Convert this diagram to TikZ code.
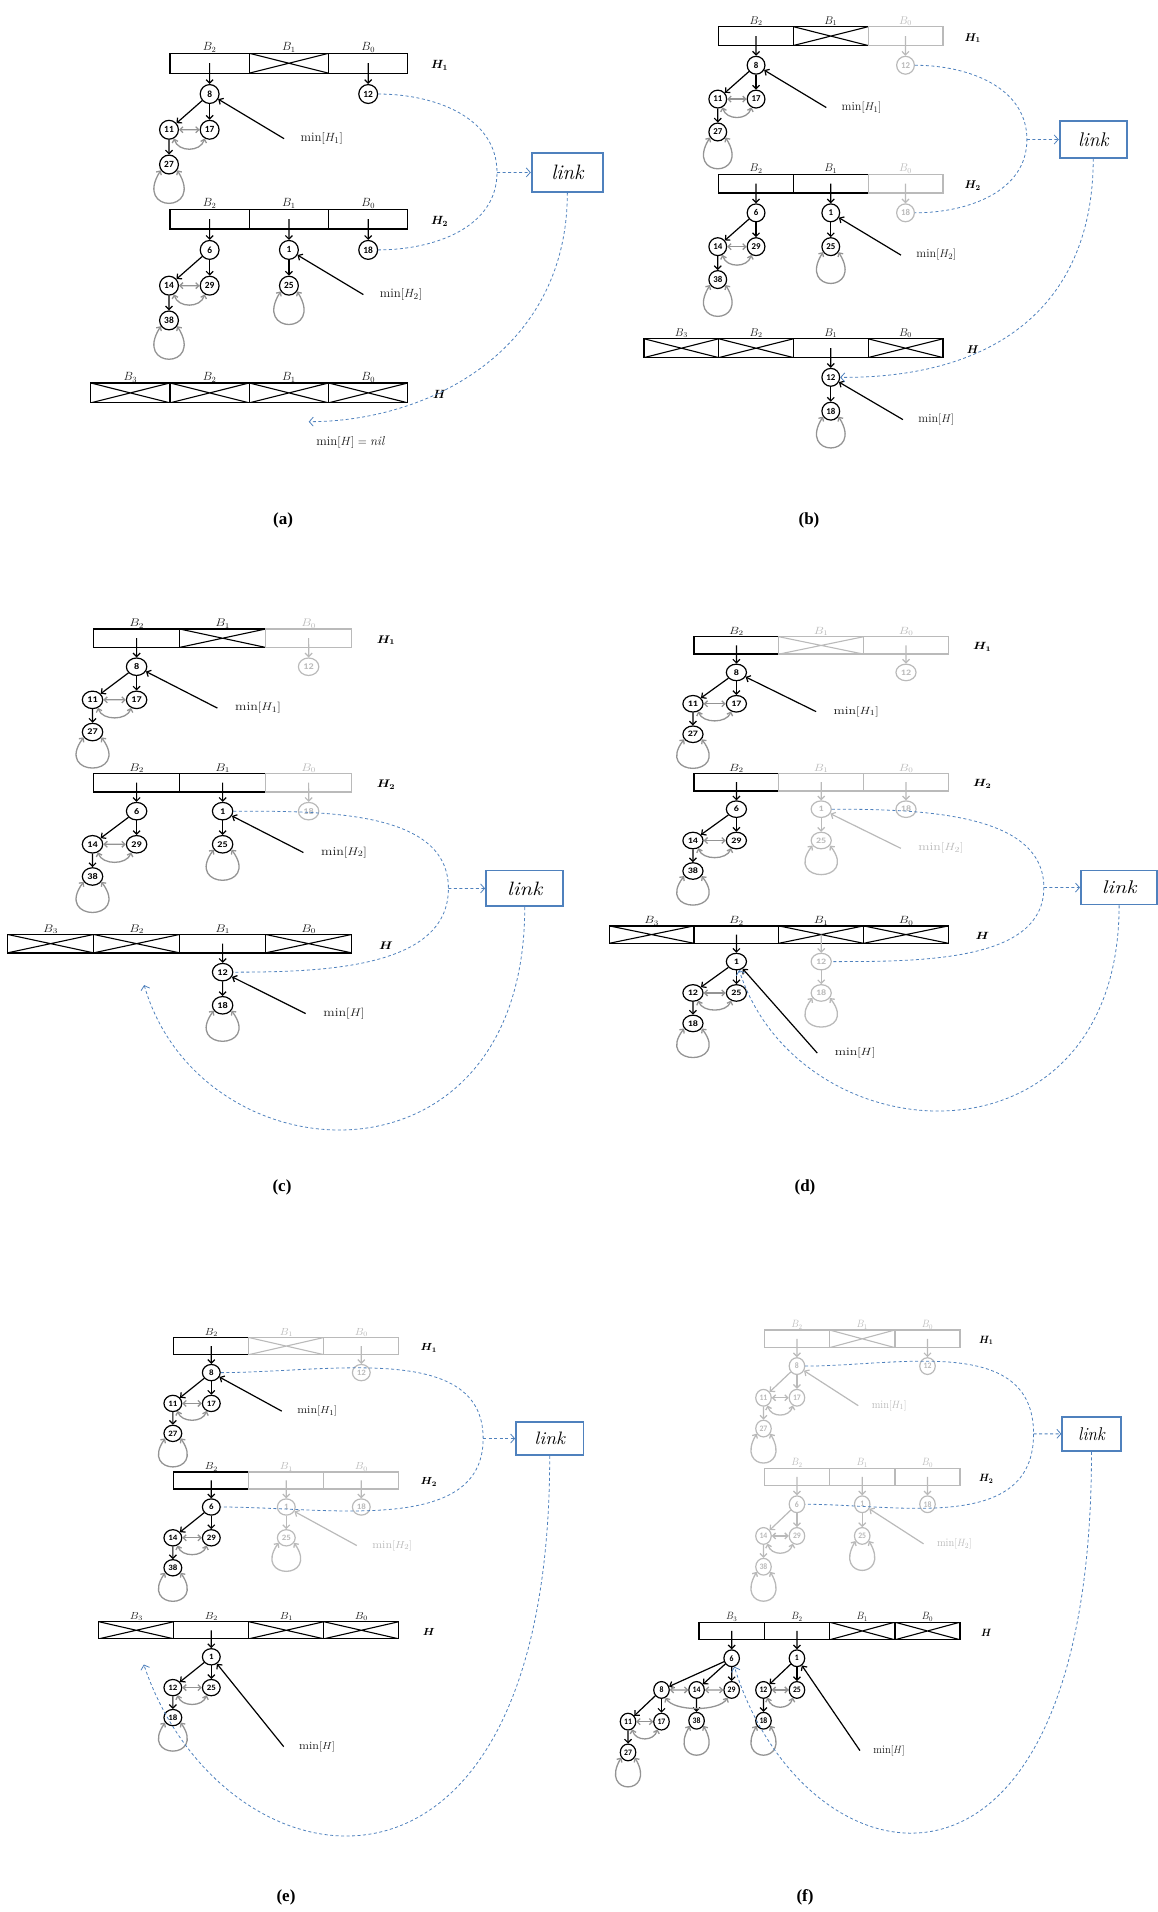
\documentclass[tikz,border=0pt]{standalone}
\usepackage{fontspec}
\usepackage{amsmath}
\usepackage{bm}
\usetikzlibrary{arrows.meta}
\newfontfamily\numfont{Carlito}
\newfontfamily\capfont{Liberation Serif}
\definecolor{linkblue}{RGB}{79,129,189}
\colorlet{fadegray}{black!27}
\colorlet{sibgray}{black!42}

\begin{document}
\begin{tikzpicture}[x=1pt, y=1pt,
  slot/.style={draw, line width=1.3pt, minimum width=80pt, minimum height=20pt, inner sep=0pt, label distance=3pt},
  xed/.style={path picture={\draw[line width=1.1pt] (path picture bounding box.north west) -- (path picture bounding box.south east) (path picture bounding box.south west) -- (path picture bounding box.north east);}},
  blab/.style={font=\fontsize{12}{12}\selectfont, inner sep=0pt},
  bl/.style={label={[blab, text=black!90]above:$B_{#1}$}},
  fbl/.style={label={[blab, text=fadegray]above:$B_{#1}$}},
  hn/.style={circle, draw, line width=1.2pt, minimum size=19pt, inner sep=0pt, font=\fontsize{9.5}{10}\numfont\bfseries},
  ptr/.style={line width=1.2pt, -{Straight Barb[length=3.5pt, width=7pt]}},
  sib/.style={draw=sibgray, line width=1.3pt, {Straight Barb[length=3pt, width=6pt]}-{Straight Barb[length=3pt, width=6pt]}},
  faded/.style={color=fadegray, sib/.append style={draw=fadegray}, mlab/.append style={text=fadegray}},
  mlab/.style={font=\fontsize{13}{13}\selectfont, text=black!90},
  hlab/.style={font=\fontsize{12}{12}\selectfont},
  lbox/.style={draw=linkblue, line width=1.8pt, fill=white, minimum width=72pt, minimum height=39pt, inner sep=0pt, font=\fontsize{21}{21}\selectfont},
  dline/.style={draw=linkblue, line width=0.8pt, dash pattern=on 3pt off 2.5pt},
  darr/.style={dline, -{Straight Barb[length=4pt, width=9pt]}},
  captxt/.style={font=\fontsize{17}{17}\capfont\bfseries},
  pics/bone/.style 2 args={code={
    \node[hn] (-r) at (0,0) {#1};
    \node[hn] (-a) at (0,-36) {#2};
    \draw[ptr] (-r) -- (-a);
    \draw[sib] (-a.215) .. controls +(-28,-44) and +(28,-44) .. (-a.325);
  }},
  pics/btwo/.style n args={4}{code={
    \node[hn] (-r) at (0,0) {#1};
    \node[hn] (-a) at (-41,-36) {#2};
    \node[hn] (-b) at (0,-36) {#3};
    \node[hn] (-c) at (-41,-71) {#4};
    \draw[ptr] (-r) -- (-a);
    \draw[ptr] (-r) -- (-b);
    \draw[ptr] (-a) -- (-c);
    \draw[sib] (-a) -- (-b);
    \draw[sib] (-a.300) .. controls +(4,-14) and +(-4,-14) .. (-b.240);
    \draw[sib] (-c.215) .. controls +(-28,-44) and +(28,-44) .. (-c.325);
  }}
]
\useasboundingbox (0,0) rectangle (1157,-1912);

% (a)
\begin{scope}[shift={(170,-53.3)}, xscale=0.991, yscale=0.993, transform shape]
\node[slot, bl=2] (a1b2) at (40,-10) {};
\node[slot, xed, bl=1] (a1b1) at (120,-10) {};
\node[slot, bl=0] (a1b0) at (200,-10) {};
\node[hlab] (ah1) at (272,-12) {$\bm{H_1}$};
\pic (a8) at (40,-41) {btwo={8}{11}{17}{27}};
\node[hn] (a12) at (200,-41) {12};
\draw[ptr] (a1b2.center) -- (a8-r);
\draw[ptr] (a1b0.center) -- (a12);
\node[mlab] (am1) at (153,-86) {$\min[H_1]$};
\draw[ptr] ([xshift=-13pt]am1.west) -- (a8-r);
\node[slot, bl=2] (a2b2) at (40,-167) {};
\node[slot, bl=1] (a2b1) at (120,-167) {};
\node[slot, bl=0] (a2b0) at (200,-167) {};
\node[hlab] (ah2) at (272,-169) {$\bm{H_2}$};
\pic (a6) at (40,-198) {btwo={6}{14}{29}{38}};
\pic (a1) at (120,-198) {bone={1}{25}};
\node[hn] (a18) at (200,-198) {18};
\draw[ptr] (a2b2.center) -- (a6-r);
\draw[ptr] (a2b1.center) -- (a1-r);
\draw[ptr] (a2b0.center) -- (a18);
\node[mlab] (am2) at (233,-243) {$\min[H_2]$};
\draw[ptr] ([xshift=-13pt]am2.west) -- (a1-r);
\node[slot, xed, bl=3] (a3b3) at (-40,-342) {};
\node[slot, xed, bl=2] (a3b2) at (40,-342) {};
\node[slot, xed, bl=1] (a3b1) at (120,-342) {};
\node[slot, xed, bl=0] (a3b0) at (200,-342) {};
\node[hlab] (ah) at (272,-344) {$\bm{H}$};
\node[mlab] (amh) at (182,-392) {$\min[H]=\mathit{nil}$};
\node[lbox] (alink) at (401,-120) {$\mathit{link}$};
\coordinate (amg) at (330,-120);
\coordinate (atip) at (140,-371);
\draw[dline] (a12.east) to[out=0, in=90] (amg) to[out=-90, in=0] (a18.east);
\draw[darr] (amg) -- (alink);
\draw[darr] (alink.south) .. controls (401,-300) and (260,-371) .. (atip);
\end{scope}

% (b)
\begin{scope}[shift={(718.7,-26.7)}, xscale=0.934, yscale=0.94, transform shape]
\node[slot, bl=2] (b1b2) at (40,-10) {};
\node[slot, xed, bl=1] (b1b1) at (120,-10) {};
\node[slot, fadegray, fbl=0] (b1b0) at (200,-10) {};
\node[hlab] (bh1) at (272,-12) {$\bm{H_1}$};
\pic (b8) at (40,-41) {btwo={8}{11}{17}{27}};
\node[hn, fadegray] (b12) at (200,-41) {12};
\draw[ptr] (b1b2.center) -- (b8-r);
\draw[ptr, fadegray] (b1b0.center) -- (b12);
\node[mlab] (bm1) at (153,-86) {$\min[H_1]$};
\draw[ptr] ([xshift=-13pt]bm1.west) -- (b8-r);
\node[slot, bl=2] (b2b2) at (40,-167) {};
\node[slot, bl=1] (b2b1) at (120,-167) {};
\node[slot, fadegray, fbl=0] (b2b0) at (200,-167) {};
\node[hlab] (bh2) at (272,-169) {$\bm{H_2}$};
\pic (b6) at (40,-198) {btwo={6}{14}{29}{38}};
\pic (b1) at (120,-198) {bone={1}{25}};
\node[hn, fadegray] (b18) at (200,-198) {18};
\draw[ptr] (b2b2.center) -- (b6-r);
\draw[ptr] (b2b1.center) -- (b1-r);
\draw[ptr, fadegray] (b2b0.center) -- (b18);
\node[mlab] (bm2) at (233,-243) {$\min[H_2]$};
\draw[ptr] ([xshift=-13pt]bm2.west) -- (b1-r);
\node[slot, xed, bl=3] (b3b3) at (-40,-342) {};
\node[slot, xed, bl=2] (b3b2) at (40,-342) {};
\node[slot, bl=1] (b3b1) at (120,-342) {};
\node[slot, xed, bl=0] (b3b0) at (200,-342) {};
\node[hlab] (bh) at (272,-344) {$\bm{H}$};
\pic (bt12) at (120,-373) {bone={12}{18}};
\draw[ptr] (b3b1.center) -- (bt12-r);
\node[mlab] (bmh) at (233,-418) {$\min[H]$};
\draw[ptr] ([xshift=-13pt]bmh.west) -- (bt12-r);
\node[lbox] (blink) at (401,-120) {$\mathit{link}$};
\coordinate (bmg) at (330,-120);
\draw[dline] (b12.east) to[out=0, in=90] (bmg) to[out=-90, in=0] (b18.east);
\draw[darr] (bmg) -- (blink);
\draw[darr] (blink.south) .. controls (401,-292) and (302,-374) .. (bt12-r);
\end{scope}

% (c)
\begin{scope}[shift={(93.6,-629)}, xscale=1.075, yscale=0.92, transform shape]
\node[slot, bl=2] (c1b2) at (40,-10) {};
\node[slot, xed, bl=1] (c1b1) at (120,-10) {};
\node[slot, fadegray, fbl=0] (c1b0) at (200,-10) {};
\node[hlab] (ch1) at (272,-12) {$\bm{H_1}$};
\pic (c8) at (40,-41) {btwo={8}{11}{17}{27}};
\node[hn, fadegray] (c12) at (200,-41) {12};
\draw[ptr] (c1b2.center) -- (c8-r);
\draw[ptr, fadegray] (c1b0.center) -- (c12);
\node[mlab] (cm1) at (153,-86) {$\min[H_1]$};
\draw[ptr] ([xshift=-13pt]cm1.west) -- (c8-r);
\node[slot, bl=2] (c2b2) at (40,-167) {};
\node[slot, bl=1] (c2b1) at (120,-167) {};
\node[slot, fadegray, fbl=0] (c2b0) at (200,-167) {};
\node[hlab] (ch2) at (272,-169) {$\bm{H_2}$};
\pic (c6) at (40,-198) {btwo={6}{14}{29}{38}};
\pic (c1) at (120,-198) {bone={1}{25}};
\node[hn, fadegray] (c18) at (200,-198) {18};
\draw[ptr] (c2b2.center) -- (c6-r);
\draw[ptr] (c2b1.center) -- (c1-r);
\draw[ptr, fadegray] (c2b0.center) -- (c18);
\node[mlab] (cm2) at (233,-243) {$\min[H_2]$};
\draw[ptr] ([xshift=-13pt]cm2.west) -- (c1-r);
\node[slot, xed, bl=3] (c3b3) at (-40,-342) {};
\node[slot, xed, bl=2] (c3b2) at (40,-342) {};
\node[slot, bl=1] (c3b1) at (120,-342) {};
\node[slot, xed, bl=0] (c3b0) at (200,-342) {};
\node[hlab] (ch) at (272,-344) {$\bm{H}$};
\pic (ct12) at (120,-373) {bone={12}{18}};
\draw[ptr] (c3b1.center) -- (ct12-r);
\node[mlab] (cmh) at (233,-418) {$\min[H]$};
\draw[ptr] ([xshift=-13pt]cmh.west) -- (ct12-r);
\node[lbox] (clink) at (401,-282) {$\mathit{link}$};
\coordinate (cmg) at (330,-282);
\coordinate (ctip) at (47,-387);
\draw[dline] (c1-r.east) to[out=0, in=90] (cmg) to[out=-90, in=0] (ct12-r.east);
\draw[darr] (cmg) -- (clink);
\draw[darr] (clink.south) .. controls (401,-620) and (100,-600) .. (ctip);
\end{scope}

% (d)
\begin{scope}[shift={(694,-636.7)}, xscale=1.06, yscale=0.871, transform shape]
\node[slot, bl=2] (d1b2) at (40,-10) {};
\node[slot, xed, fadegray, fbl=1] (d1b1) at (120,-10) {};
\node[slot, fadegray, fbl=0] (d1b0) at (200,-10) {};
\node[hlab] (dh1) at (272,-12) {$\bm{H_1}$};
\pic (d8) at (40,-41) {btwo={8}{11}{17}{27}};
\node[hn, fadegray] (d12) at (200,-41) {12};
\draw[ptr] (d1b2.center) -- (d8-r);
\draw[ptr, fadegray] (d1b0.center) -- (d12);
\node[mlab] (dm1) at (153,-86) {$\min[H_1]$};
\draw[ptr] ([xshift=-13pt]dm1.west) -- (d8-r);
\node[slot, bl=2] (d2b2) at (40,-167) {};
\node[hlab] (dh2) at (272,-169) {$\bm{H_2}$};
\pic (d6) at (40,-198) {btwo={6}{14}{29}{38}};
\draw[ptr] (d2b2.center) -- (d6-r);
\begin{scope}[faded]
\node[slot, fbl=1] (d2b1) at (120,-167) {};
\node[slot, fbl=0] (d2b0) at (200,-167) {};
\pic (d1) at (120,-198) {bone={1}{25}};
\node[hn] (d18) at (200,-198) {18};
\draw[ptr] (d2b1.center) -- (d1-r);
\draw[ptr] (d2b0.center) -- (d18);
\node[mlab] (dm2) at (233,-243) {$\min[H_2]$};
\draw[ptr] ([xshift=-13pt]dm2.west) -- (d1-r);
\end{scope}
\node[slot, xed, bl=3] (d3b3) at (-40,-342) {};
\node[slot, bl=2] (d3b2) at (40,-342) {};
\node[slot, xed, bl=1] (d3b1) at (120,-342) {};
\node[slot, xed, bl=0] (d3b0) at (200,-342) {};
\node[hlab] (dh) at (272,-344) {$\bm{H}$};
\pic (dT1) at (40,-373) {btwo={1}{12}{25}{18}};
\draw[ptr] (d3b2.center) -- (dT1-r);
\begin{scope}[faded]
\pic (dt12) at (120,-373) {bone={12}{18}};
\draw[ptr] (d3b1.center) -- (dt12-r);
\end{scope}
\node[mlab] (dmh) at (152,-478) {$\min[H]$};
\draw[ptr] ([xshift=-13pt]dmh.west) -- (dT1-r);
\node[lbox] (dlink) at (401,-288) {$\mathit{link}$};
\coordinate (dmg) at (330,-288);
\draw[dline] (d1-r.east) to[out=0, in=90] (dmg) to[out=-90, in=0] (dt12-r.east);
\draw[darr] (dmg) -- (dlink);
\draw[darr] (dlink.south) .. controls (401,-620) and (100,-600) .. (dT1-r);
\end{scope}

% (e)
\begin{scope}[shift={(173.8,-1337.5)}, xscale=0.9375, yscale=0.856, transform shape]
\node[slot, bl=2] (e1b2) at (40,-10) {};
\node[slot, xed, fadegray, fbl=1] (e1b1) at (120,-10) {};
\node[slot, fadegray, fbl=0] (e1b0) at (200,-10) {};
\node[hlab] (eh1) at (272,-12) {$\bm{H_1}$};
\pic (e8) at (40,-41) {btwo={8}{11}{17}{27}};
\node[hn, fadegray] (e12) at (200,-41) {12};
\draw[ptr] (e1b2.center) -- (e8-r);
\draw[ptr, fadegray] (e1b0.center) -- (e12);
\node[mlab] (em1) at (153,-86) {$\min[H_1]$};
\draw[ptr] ([xshift=-13pt]em1.west) -- (e8-r);
\node[slot, bl=2] (e2b2) at (40,-167) {};
\node[hlab] (eh2) at (272,-169) {$\bm{H_2}$};
\pic (e6) at (40,-198) {btwo={6}{14}{29}{38}};
\draw[ptr] (e2b2.center) -- (e6-r);
\begin{scope}[faded]
\node[slot, fbl=1] (e2b1) at (120,-167) {};
\node[slot, fbl=0] (e2b0) at (200,-167) {};
\pic (e1) at (120,-198) {bone={1}{25}};
\node[hn] (e18) at (200,-198) {18};
\draw[ptr] (e2b1.center) -- (e1-r);
\draw[ptr] (e2b0.center) -- (e18);
\node[mlab] (em2) at (233,-243) {$\min[H_2]$};
\draw[ptr] ([xshift=-13pt]em2.west) -- (e1-r);
\end{scope}
\node[slot, xed, bl=3] (e3b3) at (-40,-342) {};
\node[slot, bl=2] (e3b2) at (40,-342) {};
\node[slot, xed, bl=1] (e3b1) at (120,-342) {};
\node[slot, xed, bl=0] (e3b0) at (200,-342) {};
\node[hlab] (eh) at (272,-344) {$\bm{H}$};
\pic (eT1) at (40,-373) {btwo={1}{12}{25}{18}};
\draw[ptr] (e3b2.center) -- (eT1-r);
\node[mlab] (emh) at (153,-478) {$\min[H]$};
\draw[ptr] ([xshift=-13pt]emh.west) -- (eT1-r);
\node[lbox] (elink) at (401,-118) {$\mathit{link}$};
\coordinate (emg) at (330,-118);
\coordinate (etip) at (-32,-382);
\draw[dline] (e8-r.east) to[out=0, in=90] (emg) to[out=-90, in=0] (e6-r.east);
\draw[darr] (emg) -- (elink);
\draw[darr] (elink.south) .. controls (401,-720) and (50,-650) .. (etip);
\end{scope}

% (f)
\begin{scope}[shift={(764.3,-1330)}, xscale=0.816, yscale=0.88, transform shape]
\begin{scope}[faded]
\node[slot, fbl=2] (f1b2) at (40,-10) {};
\node[slot, xed, fbl=1] (f1b1) at (120,-10) {};
\node[slot, fbl=0] (f1b0) at (200,-10) {};
\pic (f8) at (40,-41) {btwo={8}{11}{17}{27}};
\node[hn] (f12) at (200,-41) {12};
\draw[ptr] (f1b2.center) -- (f8-r);
\draw[ptr] (f1b0.center) -- (f12);
\node[mlab] (fm1) at (153,-86) {$\min[H_1]$};
\draw[ptr] ([xshift=-13pt]fm1.west) -- (f8-r);
\node[slot, fbl=2] (f2b2) at (40,-167) {};
\node[slot, fbl=1] (f2b1) at (120,-167) {};
\node[slot, fbl=0] (f2b0) at (200,-167) {};
\pic (f6) at (40,-198) {btwo={6}{14}{29}{38}};
\pic (f1) at (120,-198) {bone={1}{25}};
\node[hn] (f18) at (200,-198) {18};
\draw[ptr] (f2b2.center) -- (f6-r);
\draw[ptr] (f2b1.center) -- (f1-r);
\draw[ptr] (f2b0.center) -- (f18);
\node[mlab] (fm2) at (233,-243) {$\min[H_2]$};
\draw[ptr] ([xshift=-13pt]fm2.west) -- (f1-r);
\end{scope}
\node[hlab] (fh1) at (272,-12) {$\bm{H_1}$};
\node[hlab] (fh2) at (272,-169) {$\bm{H_2}$};
\node[slot, bl=3] (f3b3) at (-40,-342) {};
\node[slot, bl=2] (f3b2) at (40,-342) {};
\node[slot, xed, bl=1] (f3b1) at (120,-342) {};
\node[slot, xed, bl=0] (f3b0) at (200,-342) {};
\node[hlab] (fh) at (272,-344) {$\bm{H}$};
\node[hn] (fT6) at (-40,-373) {6};
\pic (fT8) at (-126,-409) {btwo={8}{11}{17}{27}};
\node[hn] (fT14) at (-83,-409) {14};
\node[hn] (fT29) at (-40,-409) {29};
\node[hn] (fT38) at (-83,-444) {38};
\draw[ptr] (f3b3.center) -- (fT6);
\draw[ptr] (fT6) -- (fT8-r);
\draw[ptr] (fT6) -- (fT14);
\draw[ptr] (fT6) -- (fT29);
\draw[ptr] (fT14) -- (fT38);
\draw[sib] (fT8-r) -- (fT14);
\draw[sib] (fT14) -- (fT29);
\draw[sib] (fT8-r.300) .. controls +(10,-16) and +(-10,-16) .. (fT29.240);
\draw[sib] (fT38.215) .. controls +(-28,-44) and +(28,-44) .. (fT38.325);
\pic (fT1) at (40,-373) {btwo={1}{12}{25}{18}};
\draw[ptr] (f3b2.center) -- (fT1-r);
\node[mlab] (fmh) at (153,-478) {$\min[H]$};
\draw[ptr] ([xshift=-13pt]fmh.west) -- (fT1-r);
\node[lbox] (flink) at (401,-118) {$\mathit{link}$};
\coordinate (fmg) at (330,-118);
\draw[dline] (f8-r.east) to[out=0, in=90] (fmg) to[out=-90, in=0] (f6-r.east);
\draw[darr] (fmg) -- (flink);
\draw[darr] (flink.south) .. controls (401,-700) and (50,-640) .. (fT6);
\end{scope}

% captions
\node[captxt] (capa) at (283,-520) {(a)};
\node[captxt] (capb) at (809,-520) {(b)};
\node[captxt] (capc) at (282,-1187) {(c)};
\node[captxt] (capd) at (805,-1187) {(d)};
\node[captxt] (cape) at (286,-1897) {(e)};
\node[captxt] (capf) at (805,-1897) {(f)};
\end{tikzpicture}
\end{document}
